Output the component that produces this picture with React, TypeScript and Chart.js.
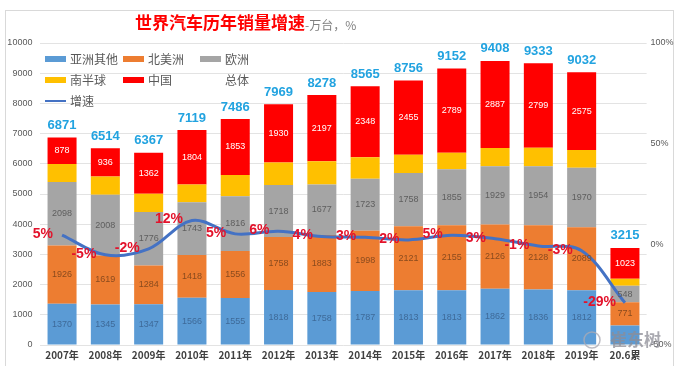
import { useEffect, useRef } from 'react';
import { Chart, registerables } from 'chart.js';
Chart.register(...registerables);

const categories = ['2007年', '2008年', '2009年', '2010年', '2011年', '2012年', '2013年', '2014年', '2015年', '2016年', '2017年', '2018年', '2019年', '20.6累'];
const asiaOther = [1370, 1345, 1347, 1566, 1555, 1818, 1758, 1787, 1813, 1813, 1862, 1836, 1812, 643];
const northAmerica = [1926, 1619, 1284, 1418, 1556, 1758, 1883, 1998, 2121, 2155, 2126, 2128, 2089, 771];
const europe = [2098, 2008, 1776, 1743, 1816, 1718, 1677, 1723, 1758, 1855, 1929, 1954, 1970, 548];
const southern = [599, 606, 598, 588, 706, 745, 763, 709, 609, 540, 604, 616, 586, 230];
const china = [878, 936, 1362, 1804, 1853, 1930, 2197, 2348, 2455, 2789, 2887, 2799, 2575, 1023];
const totals = [6871, 6514, 6367, 7119, 7486, 7969, 8278, 8565, 8756, 9152, 9408, 9333, 9032, 3215];
const growth = [4.6, -5.2, -2.3, 11.8, 5.2, 6.5, 3.9, 3.5, 2.2, 4.5, 2.8, -0.8, -3.2, -29];
const growthLabels = ['5%', '-5%', '-2%', '12%', '5%', '6%', '4%', '3%', '2%', '5%', '3%', '-1%', '-3%', '-29%'];
const leftTicks = [0, 1000, 2000, 3000, 4000, 5000, 6000, 7000, 8000, 9000, 10000];
const rightTicks = [-50, 0, 50, 100];

const FONT = "'Liberation Sans', 'Noto Sans CJK SC', sans-serif";
const CJK = "'Noto Sans CJK SC', sans-serif";

const BLUE = '#5B9BD5';
const ORANGE = '#ED7D31';
const GRAY = '#A5A5A5';
const YELLOW = '#FFC000';
const RED = '#FF0000';
const LINE = '#4472C4';

const segLabelColors = ['#3E6A99', '#8A4B1E', '#5E5E5E', '', '#FFFFFF'];

const decorPlugin = {
  id: 'decor',
  beforeDraw(chart: any) {
    const ctx = chart.ctx;
    ctx.save();
    ctx.strokeStyle = '#D9D9D9';
    ctx.lineWidth = 1;
    ctx.strokeRect(5.5, 10.5, 668, 362);
    ctx.restore();
  },
  afterDatasetsDraw(chart: any) {
    const ctx = chart.ctx;
    ctx.save();
    // segment labels
    ctx.textAlign = 'center';
    ctx.textBaseline = 'middle';
    ctx.font = `9px ${FONT}`;
    for (let d = 0; d < 5; d++) {
      if (d === 3) continue;
      const meta = chart.getDatasetMeta(d);
      const data = chart.data.datasets[d].data as number[];
      meta.data.forEach((el: any, j: number) => {
        if (d === 0 && j === 13) return;
        ctx.fillStyle = segLabelColors[d];
        ctx.fillText(String(data[j]), el.x, (el.y + el.base) / 2);
      });
    }
    // totals
    const top = chart.getDatasetMeta(4);
    ctx.font = `bold 13px ${FONT}`;
    ctx.fillStyle = '#22A3E0';
    top.data.forEach((el: any, j: number) => {
      ctx.fillText(String(totals[j]), el.x, el.y - 12);
    });
    // growth labels
    const lm = chart.getDatasetMeta(5);
    ctx.font = `bold 14px ${FONT}`;
    ctx.fillStyle = '#E3122B';
    ctx.textAlign = 'right';
    lm.data.forEach((el: any, j: number) => {
      ctx.fillText(growthLabels[j], el.x - 9, el.y - 1);
    });
    // title
    ctx.textAlign = 'left';
    ctx.textBaseline = 'middle';
    ctx.font = `bold 17px ${CJK}`;
    ctx.fillStyle = '#FF0000';
    ctx.fillText('世界汽车历年销量增速', 135, 23);
    const w = ctx.measureText('世界汽车历年销量增速').width;
    ctx.font = `12px ${CJK}`;
    ctx.fillStyle = '#7F7F7F';
    ctx.fillText('-万台，%', 135 + w, 25);
    // legend
    ctx.font = `12px ${CJK}`;
    const items: [number, number, string, string, string][] = [
      [45, 59, BLUE, '亚洲其他', 'box'],
      [123, 59, ORANGE, '北美洲', 'box'],
      [200, 59, GRAY, '欧洲', 'box'],
      [45, 80, YELLOW, '南半球', 'box'],
      [123, 80, RED, '中国', 'box'],
      [200, 80, '', '总体', 'none'],
      [45, 101, LINE, '增速', 'line'],
    ];
    items.forEach(([x, y, c, t, k]) => {
      if (k === 'box') {
        ctx.fillStyle = c;
        ctx.fillRect(x, y - 3, 21, 6);
      } else if (k === 'line') {
        ctx.strokeStyle = c;
        ctx.lineWidth = 2;
        ctx.beginPath();
        ctx.moveTo(x, y);
        ctx.lineTo(x + 21, y);
        ctx.stroke();
      }
      ctx.fillStyle = '#595959';
      ctx.fillText(t, x + 25, y);
    });
    // watermark
    ctx.font = `bold 17px ${CJK}`;
    ctx.fillStyle = 'rgba(140,140,150,0.75)';
    ctx.fillText('崔东树', 610, 340);
    ctx.strokeStyle = 'rgba(170,170,180,0.8)';
    ctx.lineWidth = 1.5;
    ctx.beginPath();
    ctx.arc(592, 340, 8, 0, Math.PI * 2);
    ctx.stroke();
    ctx.restore();
  },
};

export default function App() {
  const ref = useRef<HTMLCanvasElement>(null);
  useEffect(() => {
    document.body.style.margin = '0';
    const barCommon = { stack: 's', yAxisID: 'y', order: 1, barPercentage: 0.67, categoryPercentage: 1 };
    const chart = new Chart(ref.current!, {
      type: 'bar',
      data: {
        labels: categories,
        datasets: [
          { ...barCommon, label: '亚洲其他', data: asiaOther, backgroundColor: BLUE },
          { ...barCommon, label: '北美洲', data: northAmerica, backgroundColor: ORANGE },
          { ...barCommon, label: '欧洲', data: europe, backgroundColor: GRAY },
          { ...barCommon, label: '南半球', data: southern, backgroundColor: YELLOW },
          { ...barCommon, label: '中国', data: china, backgroundColor: RED },
          {
            type: 'line', label: '增速', data: growth, yAxisID: 'y1', order: 0,
            borderColor: LINE, borderWidth: 3, pointRadius: 0, tension: 0.35, fill: false,
          } as any,
        ],
      },
      options: {
        responsive: true,
        maintainAspectRatio: false,
        animation: false,
        layout: { padding: { top: 43, left: 0, right: 0, bottom: 0 } },
        plugins: { legend: { display: false }, tooltip: { enabled: false }, title: { display: false } },
        scales: {
          x: {
            stacked: true,
            grid: { display: false, drawTicks: false },
            border: { display: false },
            ticks: { padding: 4, color: '#404040', font: { size: 10, weight: 'bold', family: CJK } },
            afterFit: (s: any) => { s.height = 21; },
          },
          y: {
            stacked: true,
            position: 'left',
            min: 0, max: 10000,
            afterBuildTicks: (s: any) => { s.ticks = leftTicks.map((v) => ({ value: v })); },
            grid: { color: '#E3E3E3', drawTicks: false, lineWidth: 1 },
            border: { display: false },
            ticks: { padding: 8, color: '#595959', font: { size: 9, family: FONT }, callback: (v: any) => String(v) },
            afterFit: (s: any) => { s.width = 40.4; },
          },
          y1: {
            position: 'right',
            min: -50, max: 100,
            afterBuildTicks: (s: any) => { s.ticks = rightTicks.map((v) => ({ value: v })); },
            grid: { display: false, drawTicks: false },
            border: { display: false },
            ticks: { padding: 4, color: '#595959', font: { size: 9, family: FONT }, callback: (v: any) => `${v}%` },
            afterFit: (s: any) => { s.width = 35.4; },
          },
        },
      },
      plugins: [decorPlugin],
    });
    return () => chart.destroy();
  }, []);
  return (
    <div style={{ width: 682, height: 366, position: 'relative' }}>
      <canvas ref={ref} />
    </div>
  );
}
